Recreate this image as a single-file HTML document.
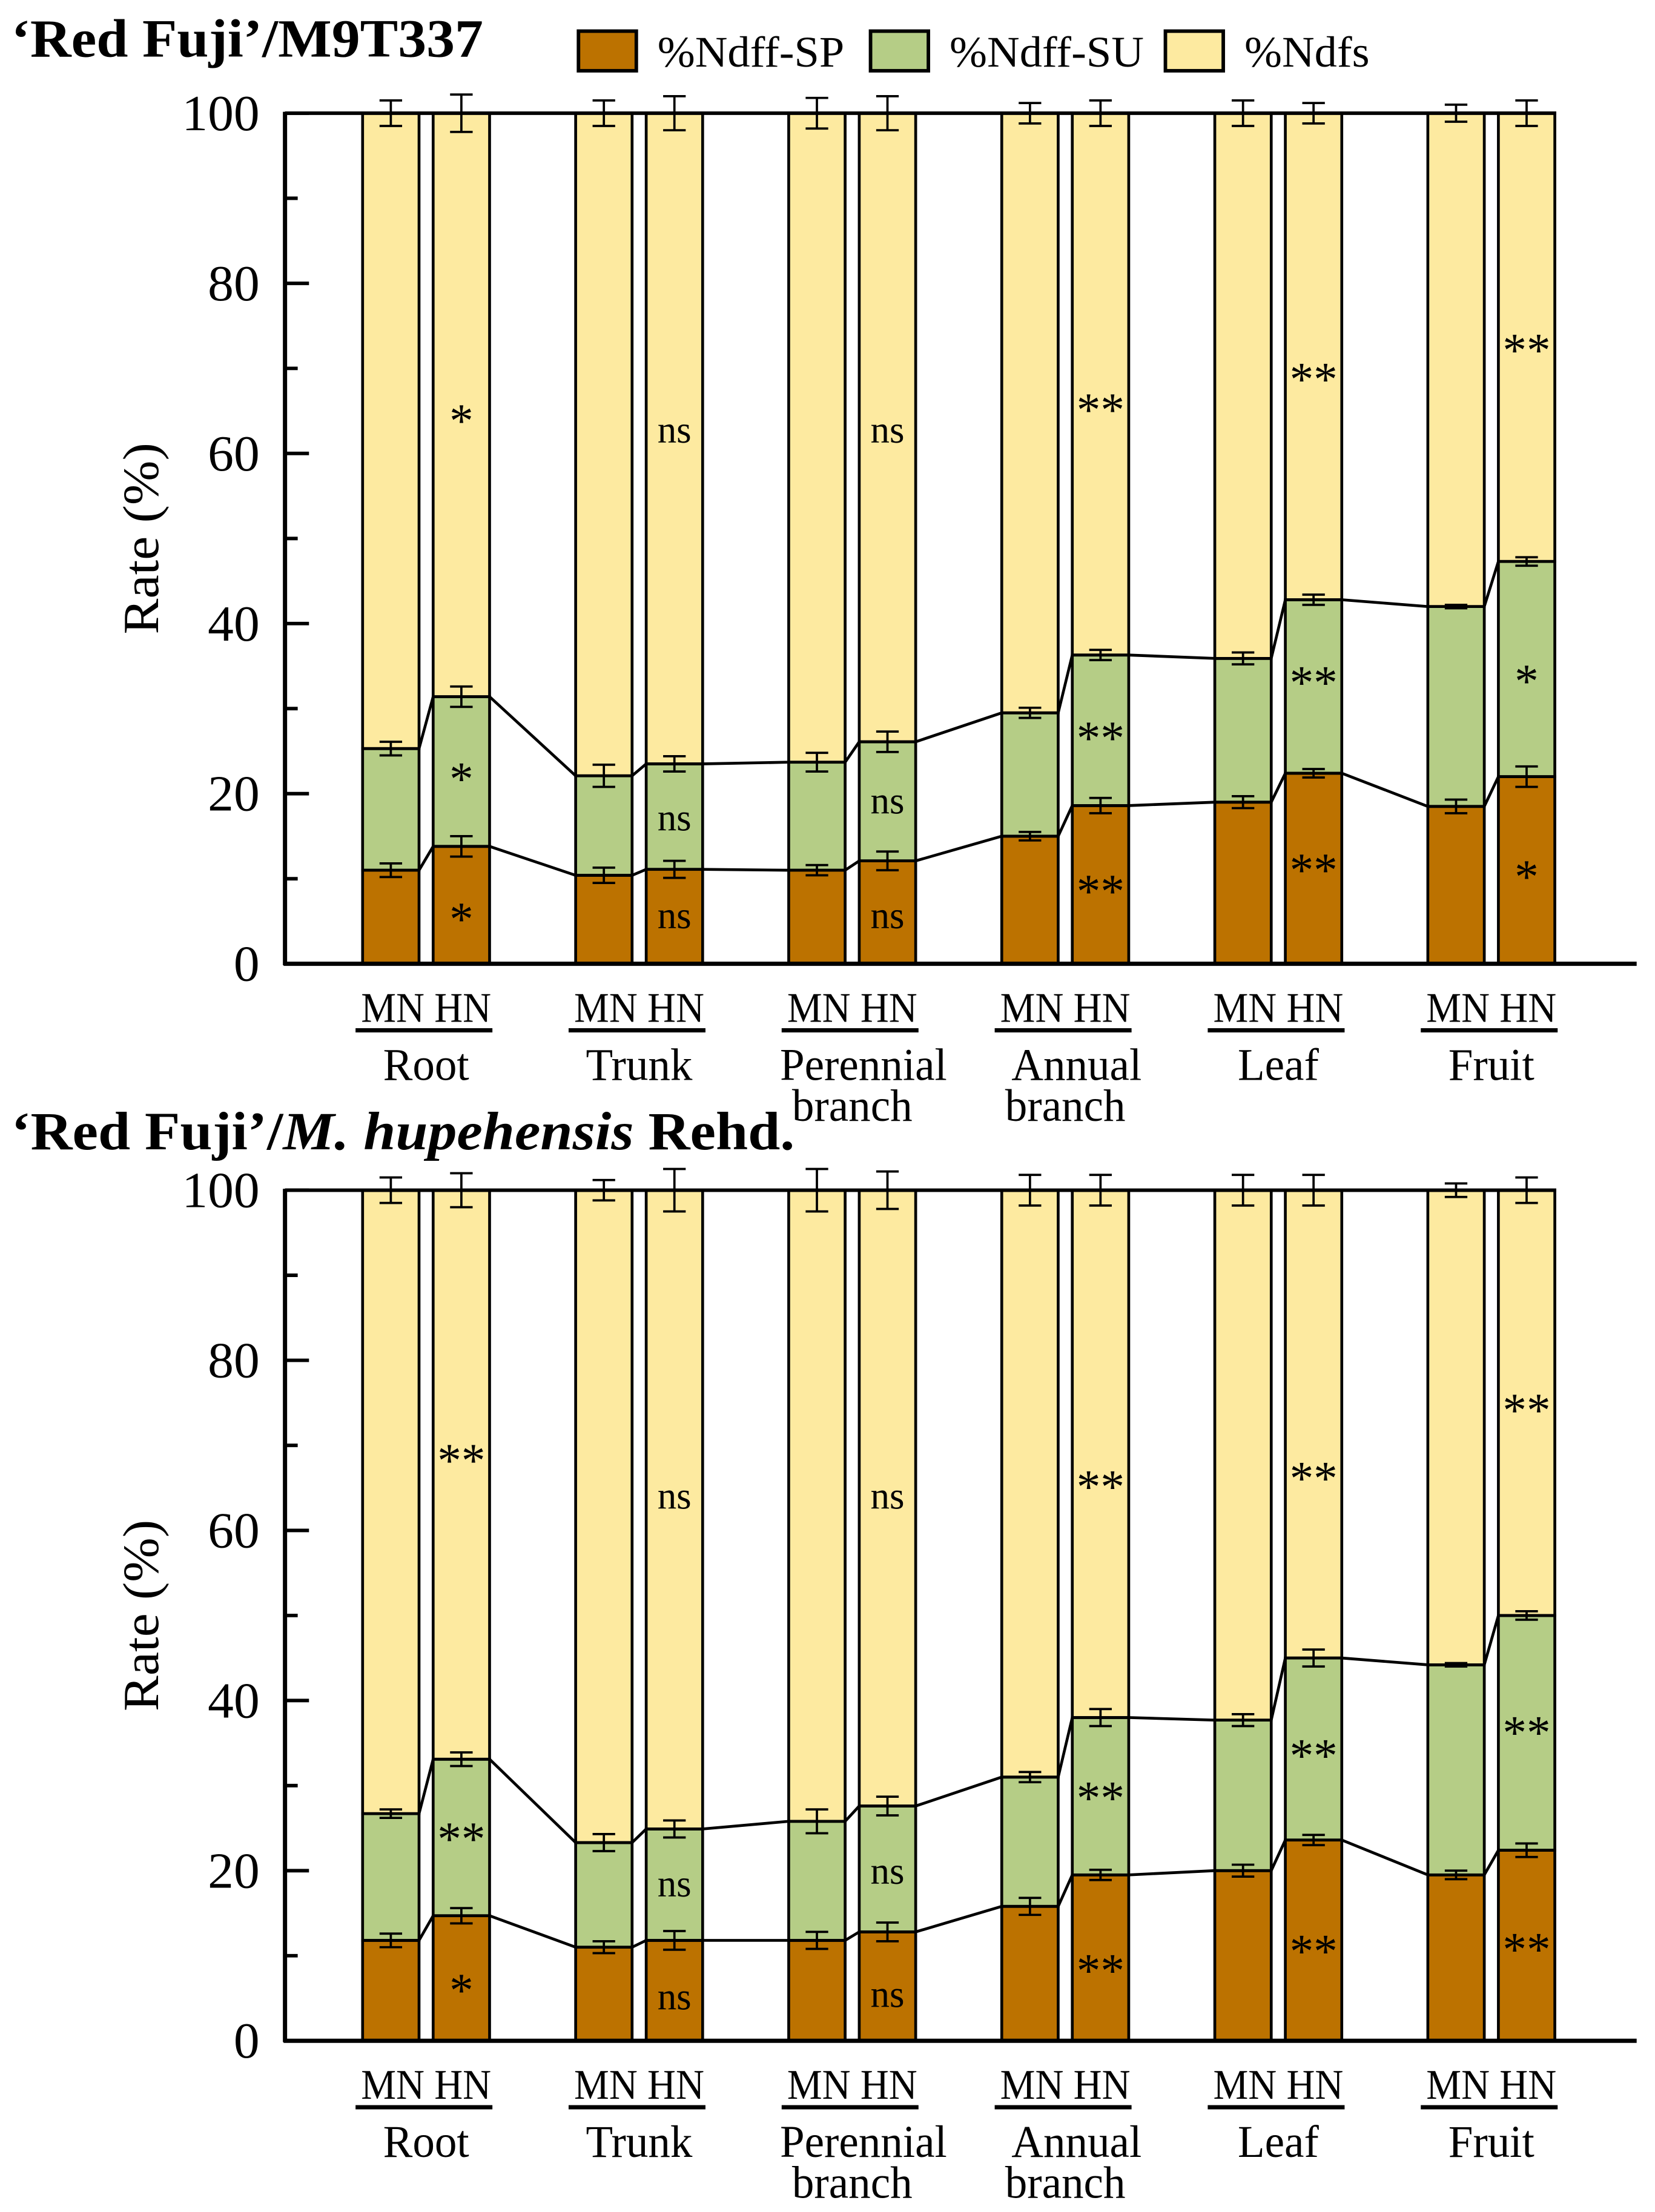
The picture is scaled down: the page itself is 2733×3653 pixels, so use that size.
<!DOCTYPE html>
<html><head><meta charset="utf-8"><style>
html,body{margin:0;padding:0;background:#fff;}
svg{display:block;}
text{font-family:"Liberation Serif",serif;fill:#000;}
</style></head><body>
<svg id="fig" width="2733" height="3653" viewBox="0 0 1173 1563" preserveAspectRatio="none" xmlns="http://www.w3.org/2000/svg"></svg>
<script>
const groups = ["Root","Trunk","Perennial branch","Annual branch","Leaf","Fruit"];
const treatments = ["MN","HN"];
const topSP = [11,13.8, 10.4,11.1, 11,12.1, 15,18.6, 19,22.4, 18.5,22];
const topSU = [25.3,31.4, 22.1,23.5, 23.7,26.1, 29.5,36.3, 35.9,42.8, 42,47.3];
const topErrSP = [0.8,1.2, 0.9,1.0, 0.6,1.1, 0.5,0.9, 0.7,0.5, 0.8,1.2];
const topErrSU = [0.8,1.2, 1.3,0.9, 1.1,1.2, 0.6,0.6, 0.7,0.6, 0.2,0.5];
const topErrDF = [1.5,2.2, 1.5,2.0, 1.8,2.0, 1.2,1.5, 1.5,1.2, 1.0,1.5];
const topSigSP = ["*","ns","ns","**","**","*"];
const topSigSU = ["*","ns","ns","**","**","*"];
const topSigDF = ["*","ns","ns","**","**","**"];
const topSigSPy = [6,5.5,5.5,9.3,11.8,11];
const topSigSUy = [22.5,17,19,27.3,33.8,34];
const topSigDFy = [64.6,62.6,62.6,65.9,69.5,72.9];
const botSP = [11.8,14.7, 11,11.8, 11.8,12.8, 15.8,19.5, 20,23.6, 19.5,22.4];
const botSU = [26.7,33.1, 23.3,24.9, 25.8,27.6, 31,38, 37.7,45, 44.2,50];
const botErrSP = [0.8,0.9, 0.7,1.1, 1.0,1.1, 1.0,0.6, 0.7,0.6, 0.5,0.8];
const botErrSU = [0.5,0.8, 1.0,1.0, 1.4,1.1, 0.6,1.0, 0.7,1.0, 0.2,0.5];
const botErrDF = [1.5,2.0, 1.2,2.5, 2.5,2.2, 1.8,1.8, 1.8,1.8, 0.8,1.5];
const botSigSP = ["*","ns","ns","**","**","**"];
const botSigSU = ["**","ns","ns","**","**","**"];
const botSigDF = ["**","ns","ns","**","**","**"];
const botSigSPy = [6.7,5,5.3,9,11.3,11.5];
const botSigSUy = [24.5,18.3,19.8,29.3,34.3,37];
const botSigDFy = [69,63.9,63.9,65.9,66.9,74.9];
const yTicks = [0,20,40,60,80,100];

const NS="http://www.w3.org/2000/svg";
const svg=document.getElementById('fig');
const C={sp:"#bc7200",su:"#b5cd86",df:"#fdeaa0"};
function el(tag,attrs,parent){const e=document.createElementNS(NS,tag);for(const k in attrs)e.setAttribute(k,attrs[k]);(parent||svg).appendChild(e);return e;}
function txt(x,y,s,size,parent,opts){opts=opts||{};const t=el('text',{x:0,y:0,'font-size':size,'text-anchor':opts.anchor||'middle',transform:`translate(${x},${y}) scale(${opts.sx||1},1)`},parent);
 if(opts.weight)t.setAttribute('font-weight',opts.weight);t.textContent=s;return t;}

function panel(name,y0,y100,SP,SU,eSP,eSU,eDF,sSP,sSU,sDF,ySP,ySU,yDF){
 const g=el('g',{});
 
 
 const axX=202, barW=40;
 const Y=v=>y0-(y0-y100)*v/100;
 const X=(gi,ti)=>257+151*gi+50*ti;
 const pts=[];
 for(let gi=0;gi<groups.length;gi++){for(let ti=0;ti<2;ti++){
  const i=gi*2+ti,x=X(gi,ti);
  const segs=[[0,SP[i],C.sp,'sp'],[SP[i],SU[i],C.su,'su'],[SU[i],100,C.df,'dfs']];
  for(const s of segs){const r=el('rect',{x:x,y:Y(s[1]),width:barW,height:Y(s[0])-Y(s[1]),fill:s[2],stroke:'#000','stroke-width':2},g);
   
   }
  const errs=[[SP[i],eSP[i]],[SU[i],eSU[i]],[100,eDF[i]]];
  for(const e of errs){const cx=x+barW/2;
   el('path',{d:`M${cx},${Y(e[0]-e[1])}V${Y(e[0]+e[1])}M${cx-8},${Y(e[0]-e[1])}h16M${cx-8},${Y(e[0]+e[1])}h16`,stroke:'#000','stroke-width':1.6,fill:'none'},g);}
  pts.push([x,SP[i],SU[i]],[x+barW,SP[i],SU[i]]);
 }}
 el('polyline',{points:pts.map(p=>`${p[0]},${Y(p[1])}`).join(' '),fill:'none',stroke:'#000','stroke-width':2},g);
 el('polyline',{points:pts.map(p=>`${p[0]},${Y(p[2])}`).join(' '),fill:'none',stroke:'#000','stroke-width':2},g);
 for(let gi=0;gi<groups.length;gi++){const cx=X(gi,1)+barW/2;
  [[sSP[gi],ySP[gi]],[sSU[gi],ySU[gi]],[sDF[gi],yDF[gi]]].forEach(s=>{
   const ns=s[0]=='ns';
   const t=txt(cx,Y(s[1])+(ns?8:16),s[0],ns?27:34,g,{sx:1});
   
   });
 }
 el('line',{x1:axX,y1:y100,x2:1103,y2:y100,stroke:'#000','stroke-width':2.5},g);
 const xa=el('line',{x1:axX-1,y1:y0,x2:1160,y2:y0,stroke:'#000','stroke-width':3},g);
 
 
 const ya=el('line',{x1:axX,y1:y100-1,x2:axX,y2:y0+1,stroke:'#000','stroke-width':3},g);
 
 
 for(let v=0;v<=100;v+=10){el('line',{x1:axX,y1:Y(v),x2:axX+(v%20==0?17:9),y2:Y(v),stroke:'#000','stroke-width':2.5},g);}
 yTicks.forEach(v=>{const t=txt(axX-18,Y(v)+12,String(v),36,g,{anchor:'end',sx:1.02});
  
  });
 const yt=el('text',{x:0,y:0,'font-size':36,'text-anchor':'middle',transform:`translate(112,${(y0+y100)/2}) rotate(-90) scale(1.05,1)`},g);
 yt.textContent='Rate (%)';
 
 
 for(let gi=0;gi<groups.length;gi++){const x0=X(gi,0),cx=x0+45;
  const t1=txt(cx,y0+41,'MN HN',30,g,{sx:0.93});
  
  
  el('line',{x1:x0-5,y1:y0+47,x2:x0+92,y2:y0+47,stroke:'#000','stroke-width':3},g);
  const w=groups[gi].split(' ');
  w.forEach((s,k)=>{const t=txt(cx+(w.length>1&&k==0?8:0),y0+82+k*29,s,32,g,{sx:0.98});
   
   });
 }
}
let t=el('text',{x:0,y:0,'font-size':38,'font-weight':'bold',transform:'translate(8,40) scale(1.06,1)'});
t.innerHTML='‘Red Fuji’/M9T337';


t=el('text',{x:0,y:0,'font-size':38,'font-weight':'bold',transform:'translate(8,812) scale(1.08,1)'});
t.innerHTML='‘Red Fuji’/<tspan font-style="italic">M. hupehensis</tspan> Rehd.';


const leg=[["%Ndff-SP",C.sp,410],["%Ndff-SU",C.su,617],["%Ndfs",C.df,826]];
leg.forEach(l=>{const g=el('g',{});
 
 
 el('rect',{x:l[2],y:22,width:41,height:28,fill:l[1],stroke:'#000','stroke-width':2.5},g);
 txt(l[2]+56,47,l[0],31,g,{anchor:'start',sx:1.03});});
panel('top-chart',681,80,topSP,topSU,topErrSP,topErrSU,topErrDF,topSigSP,topSigSU,topSigDF,topSigSPy,topSigSUy,topSigDFy);
panel('bottom-chart',1442,841,botSP,botSU,botErrSP,botErrSU,botErrDF,botSigSP,botSigSU,botSigDF,botSigSPy,botSigSUy,botSigDFy);
</script>
</body></html>
